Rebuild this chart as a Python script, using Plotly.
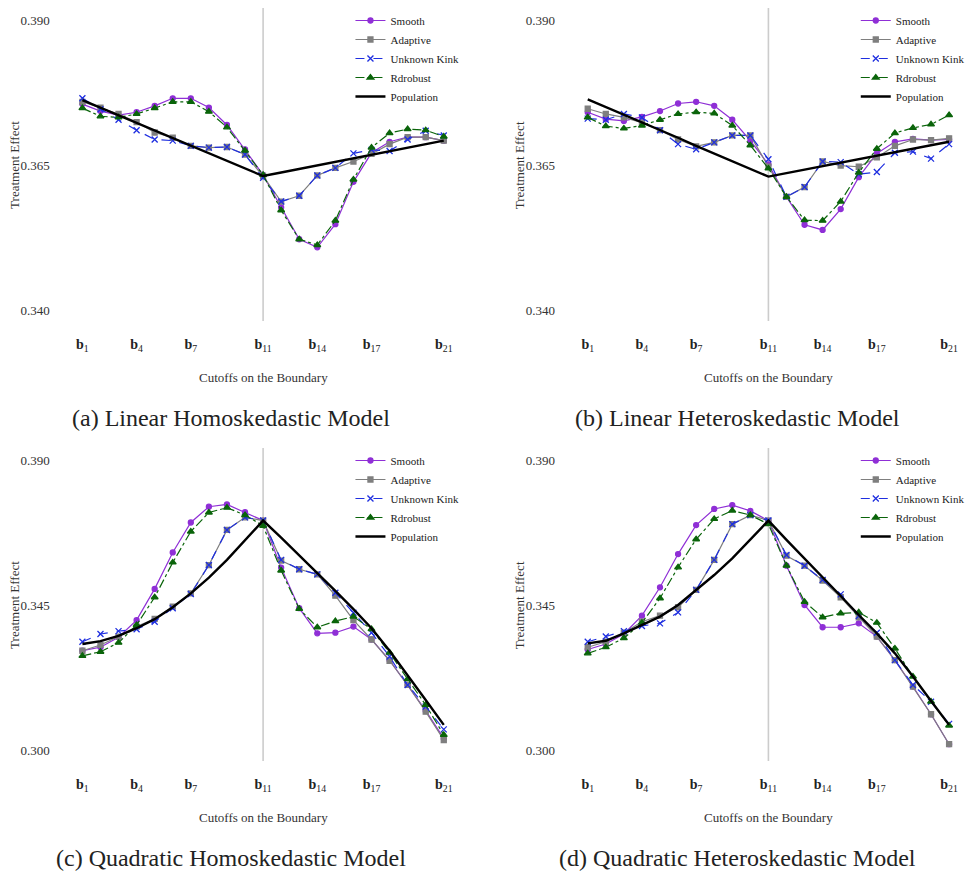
import plotly.graph_objects as go

cutoffs = list(range(1, 22))
tick_positions = [1, 4, 7, 11, 14, 17, 21]
tick_labels = ["<b>b</b><sub>%d</sub>" % i for i in tick_positions]
series_names = ["Smooth", "Adaptive", "Unknown Kink", "Rdrobust", "Population"]
captions = ["(a) Linear Homoskedastic Model", "(b) Linear Heteroskedastic Model",
            "(c) Quadratic Homoskedastic Model", "(d) Quadratic Heteroskedastic Model"]
yticks_linear = [0.340, 0.365, 0.390]
yticks_quad = [0.300, 0.345, 0.390]

# (a) Linear Homoskedastic
a_smooth = [0.3755, 0.3743, 0.3736, 0.3741, 0.3752, 0.3765, 0.3765, 0.3749, 0.3719, 0.3677, 0.3633,
            0.3577, 0.3522, 0.3508, 0.3548, 0.3621, 0.3671, 0.3690, 0.3698, 0.3698, 0.3692]
a_adaptive = [0.3759, 0.3749, 0.3738, 0.3724, 0.3706, 0.3697, 0.3683, 0.3680, 0.3681, 0.3668, 0.3631,
              0.3587, 0.3597, 0.3632, 0.3645, 0.3656, 0.3669, 0.3686, 0.3698, 0.3698, 0.3692]
a_kink = [0.3765, 0.3746, 0.3728, 0.3710, 0.3694, 0.3692, 0.3683, 0.3680, 0.3681, 0.3668, 0.3628,
          0.3587, 0.3597, 0.3632, 0.3645, 0.3670, 0.3676, 0.3674, 0.3694, 0.3709, 0.3701]
a_rdrobust = [0.3748, 0.3734, 0.3732, 0.3738, 0.3748, 0.3759, 0.3759, 0.3742, 0.3715, 0.3675, 0.3633,
              0.3572, 0.3522, 0.3512, 0.3554, 0.3625, 0.3680, 0.3705, 0.3712, 0.3710, 0.3699]
a_population = [0.3762, 0.3749, 0.3736, 0.3723, 0.3710, 0.3697, 0.3683, 0.3670, 0.3657, 0.3644, 0.3631,
                0.3637, 0.3643, 0.3649, 0.3655, 0.3662, 0.3668, 0.3674, 0.3680, 0.3686, 0.3692]

# (b) Linear Heteroskedastic
b_smooth = [0.3741, 0.3729, 0.3726, 0.3733, 0.3743, 0.3756, 0.3759, 0.3752, 0.3728, 0.3692, 0.3651,
            0.3595, 0.3547, 0.3538, 0.3574, 0.3629, 0.3670, 0.3690, 0.3695, 0.3693, 0.3694]
b_adaptive = [0.3747, 0.3738, 0.3732, 0.3723, 0.3710, 0.3694, 0.3682, 0.3689, 0.3701, 0.3701, 0.3647,
              0.3595, 0.3612, 0.3656, 0.3649, 0.3647, 0.3663, 0.3683, 0.3694, 0.3693, 0.3696]
b_kink = [0.3730, 0.3728, 0.3738, 0.3732, 0.3710, 0.3686, 0.3677, 0.3689, 0.3701, 0.3701, 0.3660,
          0.3595, 0.3612, 0.3656, 0.3655, 0.3634, 0.3638, 0.3671, 0.3673, 0.3661, 0.3686]
b_rdrobust = [0.3732, 0.3717, 0.3713, 0.3718, 0.3728, 0.3738, 0.3741, 0.3739, 0.3718, 0.3684, 0.3644,
              0.3595, 0.3555, 0.3554, 0.3587, 0.3637, 0.3678, 0.3705, 0.3714, 0.3720, 0.3736]
b_population = [0.3763, 0.3750, 0.3736, 0.3723, 0.3710, 0.3697, 0.3683, 0.3670, 0.3657, 0.3643, 0.3630,
                0.3636, 0.3642, 0.3648, 0.3654, 0.3660, 0.3666, 0.3672, 0.3678, 0.3684, 0.3690]

# (c) Quadratic Homoskedastic
c_smooth = [0.3308, 0.3319, 0.3350, 0.3403, 0.3500, 0.3613, 0.3706, 0.3755, 0.3762, 0.3738, 0.3712,
            0.3566, 0.3440, 0.3362, 0.3364, 0.3383, 0.3343, 0.3279, 0.3202, 0.3122, 0.3036]
c_adaptive = [0.3308, 0.3326, 0.3352, 0.3383, 0.3407, 0.3445, 0.3486, 0.3574, 0.3683, 0.3722, 0.3712,
              0.3588, 0.3561, 0.3545, 0.3479, 0.3403, 0.3343, 0.3277, 0.3202, 0.3119, 0.3031]
c_kink = [0.3336, 0.3360, 0.3369, 0.3375, 0.3398, 0.3440, 0.3484, 0.3574, 0.3683, 0.3722, 0.3712,
          0.3590, 0.3561, 0.3545, 0.3488, 0.3426, 0.3364, 0.3290, 0.3202, 0.3135, 0.3064]
c_rdrobust = [0.3292, 0.3305, 0.3333, 0.3388, 0.3474, 0.3582, 0.3678, 0.3737, 0.3752, 0.3729, 0.3696,
              0.3557, 0.3438, 0.3381, 0.3400, 0.3414, 0.3375, 0.3302, 0.3220, 0.3140, 0.3047]
c_population = [0.3329, 0.3338, 0.3354, 0.3378, 0.3406, 0.3443, 0.3486, 0.3535, 0.3590, 0.3650, 0.3712,
                0.3659, 0.3605, 0.3550, 0.3494, 0.3437, 0.3378, 0.3308, 0.3233, 0.3155, 0.3078]

# (d) Quadratic Heteroskedastic
d_smooth = [0.3312, 0.3329, 0.3360, 0.3417, 0.3505, 0.3608, 0.3698, 0.3748, 0.3760, 0.3742, 0.3712,
            0.3572, 0.3450, 0.3381, 0.3381, 0.3393, 0.3352, 0.3279, 0.3197, 0.3111, 0.3018]
d_adaptive = [0.3319, 0.3336, 0.3364, 0.3398, 0.3417, 0.3443, 0.3497, 0.3590, 0.3701, 0.3729, 0.3712,
              0.3603, 0.3572, 0.3526, 0.3474, 0.3412, 0.3352, 0.3279, 0.3197, 0.3111, 0.3018]
d_kink = [0.3336, 0.3352, 0.3369, 0.3385, 0.3393, 0.3427, 0.3497, 0.3590, 0.3701, 0.3729, 0.3712,
          0.3605, 0.3572, 0.3528, 0.3483, 0.3416, 0.3364, 0.3279, 0.3202, 0.3150, 0.3081]
d_rdrobust = [0.3300, 0.3319, 0.3347, 0.3395, 0.3471, 0.3567, 0.3654, 0.3717, 0.3743, 0.3729, 0.3701,
              0.3572, 0.3460, 0.3412, 0.3424, 0.3427, 0.3395, 0.3315, 0.3228, 0.3150, 0.3076]
d_population = [0.3331, 0.3339, 0.3362, 0.3388, 0.3414, 0.3450, 0.3497, 0.3543, 0.3595, 0.3652, 0.3712,
                0.3652, 0.3595, 0.3538, 0.3478, 0.3419, 0.3362, 0.3300, 0.3228, 0.3152, 0.3078]

panels = [
    [a_smooth, a_adaptive, a_kink, a_rdrobust, a_population],
    [b_smooth, b_adaptive, b_kink, b_rdrobust, b_population],
    [c_smooth, c_adaptive, c_kink, c_rdrobust, c_population],
    [d_smooth, d_adaptive, d_kink, d_rdrobust, d_population],
]

W, H = 970, 872
FONT = "Liberation Serif"
styles = [
    dict(color="#8f2fd6", dash="solid", symbol="circle", width=1.2, size=5),
    dict(color="#7f7f7f", dash="solid", symbol="square", width=1.2, size=5),
    dict(color="#1f2fe0", dash="dash", symbol="x-thin", width=1.2, size=6),
    dict(color="#0a640a", dash="dashdot", symbol="triangle-up", width=1.2, size=6),
    dict(color="#000000", dash="solid", symbol=None, width=2.4, size=0),
]


def px_x(v):
    return v / W


def px_y(v):
    return 1 - v / H


fig = go.Figure()

left_x = [64.8, 573.8]
right_x = [465.2, 970.0]
xr = [[0, 22], [0, 21 + (970 - 956) / 18.2]]
top_y = [8, 448]
bot_y = [321, 761]
yr = [[0.3381, 0.39207], [0.29659, 0.39372]]

layout = dict(width=W, height=H, margin=dict(l=0, r=0, t=0, b=0),
              paper_bgcolor="white", plot_bgcolor="white",
              font=dict(family=FONT, color="#333333"), annotations=[], shapes=[])

for p in range(4):
    col, row = p % 2, p // 2
    sfx = "" if p == 0 else str(p + 1)
    xa = dict(domain=[px_x(left_x[col]), px_x(right_x[col])], range=xr[col],
              tickvals=tick_positions, ticktext=tick_labels, showgrid=False,
              zeroline=False, showline=False, ticks="outside", ticklen=10,
              tickcolor="rgba(0,0,0,0)", tickfont=dict(size=14, color="#222222", family=FONT),
              anchor="y" + sfx)
    ya = dict(domain=[px_y(bot_y[row]), px_y(top_y[row])], range=yr[row],
              tickvals=yticks_linear if row == 0 else yticks_quad, tickformat=".3f",
              showgrid=False, zeroline=False, showline=False, ticks="outside", ticklen=11,
              tickcolor="rgba(0,0,0,0)", tickfont=dict(size=13, color="#333333", family=FONT),
              anchor="x" + sfx)
    layout["xaxis" + sfx] = xa
    layout["yaxis" + sfx] = ya
    layout["shapes"].append(dict(type="line", xref="x" + sfx, yref="y" + sfx + " domain",
                                 x0=11, x1=11, y0=0, y1=1, layer="below",
                                 line=dict(color="#cccccc", width=1.6)))
    lg = "legend" + sfx
    layout[lg] = dict(x=px_x(353 if col == 0 else 862),
                      y=px_y(6 if row == 0 else 446), xanchor="left", yanchor="top",
                      bgcolor="rgba(0,0,0,0)",
                      font=dict(size=11, family=FONT, color="#222222"),
                      itemwidth=30, tracegroupgap=0)
    for s in range(5):
        st = styles[s]
        kw = dict(x=cutoffs, y=panels[p][s], name=series_names[s],
                  xaxis="x" + sfx, yaxis="y" + sfx, legend=lg,
                  line=dict(color=st["color"], dash=st["dash"], width=st["width"]))
        if st["symbol"]:
            kw["mode"] = "lines+markers"
            kw["marker"] = dict(symbol=st["symbol"], size=st["size"], color=st["color"],
                                line=dict(color=st["color"], width=1.3))
        else:
            kw["mode"] = "lines"
        fig.add_trace(go.Scatter(**kw))
    layout["annotations"].append(dict(text="Cutoffs on the Boundary", xref="paper", yref="paper",
                                      x=px_x(265 if col == 0 else 774), y=px_y(377 + row * 440),
                                      showarrow=False, xanchor="center", yanchor="middle",
                                      font=dict(size=13, family=FONT, color="#333333")))
    layout["annotations"].append(dict(text="Treatment Effect", xref="paper", yref="paper",
                                      x=px_x(14 if col == 0 else 523), y=px_y(165 + row * 440),
                                      textangle=-90, showarrow=False, xanchor="center",
                                      yanchor="middle",
                                      font=dict(size=13, family=FONT, color="#333333")))
    layout["annotations"].append(dict(text=captions[p], xref="paper", yref="paper",
                                      x=px_x(233 if col == 0 else 743), y=px_y(418 + row * 440),
                                      showarrow=False, xanchor="center", yanchor="middle",
                                      font=dict(size=24, family=FONT, color="#222222")))

fig.update_layout(**layout)
fig.write_html(
    "out.html",
    config={"displayModeBar": False},
    post_script="document.body.style.margin='0px';"
                "document.documentElement.style.overflow='hidden';"
                "document.body.style.overflow='hidden';",
)
